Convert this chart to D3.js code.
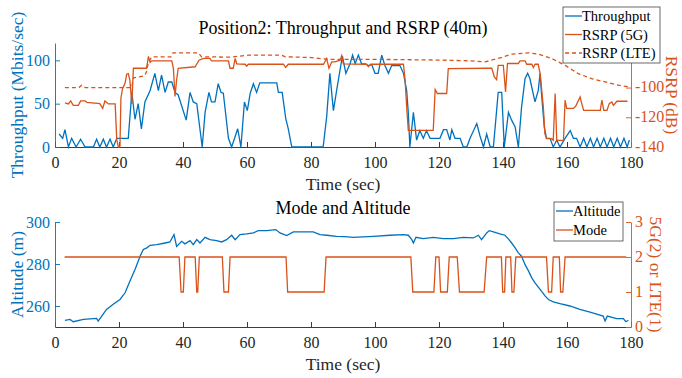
<!DOCTYPE html>
<html>
<head>
<meta charset="utf-8">
<script src="https://cdn.jsdelivr.net/npm/d3@7"></script>
<style>
body { margin: 0; background: #fff; }
svg text { font-family: "Liberation Serif", "Times New Roman", serif; }
</style>
</head>
<body>
<div id="chart"></div>
<script>
// Throughput (Mbits/sec) vs time (sec)
var thrTime = [1.3,2.4,3.1,4.2,5.2,6.6,8.0,9.4,12.0,13.0,14.0,15.1,16.1,17.2,18.2,19.3,22.9,24.0,25.0,26.0,27.0,28.1,29.7,31.2,32.3,33.3,34.4,35.4,36.5,37.5,38.5,41.0,42.2,43.2,44.3,46.0,46.9,48.1,48.9,50.0,51.0,51.9,52.6,54.2,55.2,57.1,58.1,59.2,60.1,61.0,62.0,63.0,64.0,69.3,69.8,71.0,72.1,72.9,74.0,83.8,84.9,85.9,87.0,88.0,89.8,90.9,92.2,93.0,93.8,94.8,95.8,96.9,97.9,99.0,100.0,101.0,102.1,103.1,104.2,105.2,106.3,107.8,108.9,109.9,110.4,110.9,112.0,113.0,114.0,115.1,116.1,117.2,120.3,121.4,122.4,123.4,124.0,125.0,126.6,127.6,128.7,129.7,131.8,132.8,133.9,134.9,136.0,137.0,138.5,139.6,140.4,141.7,142.7,143.8,144.8,145.8,146.9,147.7,148.4,150.0,151.0,151.6,152.0,152.9,153.6,154.7,155.7,156.8,157.8,159.4,161.0,162.0,163.0,164.1,165.2,166.2,167.3,168.3,169.4,170.4,171.5,172.5,173.6,174.6,175.7,176.7,177.8,178.8,179.5];
var thrValue = [15,10,20,0,10,0,9,0,0,9,0,9,0,9,0,10,10,63,32,50,21,52,65,85,65,83,63,75,75,63,60,31,63,52,50,0,40,63,52,52,73,63,62,10,0,21,0,52,42,62,73,63,74,74,63,63,33,21,0,0,35,85,42,65,105,85,96,106,96,106,96,96,94,95,85,85,106,94,85,94,94,94,85,65,40,0,40,8,19,10,19,10,10,20,20,8,20,10,10,0,0,10,27,13,0,15,0,0,63,63,0,40,31,23,0,46,79,85,79,52,65,85,63,23,10,10,0,8,0,10,19,10,10,0,10,0,10,0,10,0,10,0,10,0,10,0,10,0,8];

// RSRP (5G) in dB
var rsrp5gTime = [3.1,4.2,4.9,5.7,7.3,8.0,9.4,10.0,14.0,14.9,15.6,16.7,18.8,19.3,19.8,20.3,20.6,21.1,21.9,22.4,22.9,23.4,24.0,24.5,28.6,29.2,29.7,30.2,36.5,37.0,37.5,38.0,38.5,43.8,45.0,46.4,48.4,48.9,54.2,54.7,55.7,56.3,56.8,59.4,59.9,60.4,71.4,72.1,72.9,83.9,84.9,85.6,86.5,87.5,89.1,89.6,90.1,97.4,97.9,98.6,108.9,109.4,109.9,110.4,118.2,118.8,119.5,122.4,122.9,134.9,136.5,137.3,138.0,138.5,140.1,140.8,141.4,144.8,145.3,146.9,147.4,149.0,149.5,150.0,151.0,151.6,152.6,153.1,153.6,155.2,155.7,156.3,156.8,158.9,159.4,159.9,162.0,162.7,164.1,164.6,165.2,170.4,170.9,171.5,172.5,173.2,174.0,174.5,175.6,178.9];
var rsrp5gValue = [-110.3,-111,-109,-112,-112,-109,-109,-110,-110.8,-114,-109,-111,-111,-135,-140,-140,-107,-100.7,-97,-91,-90.6,-95,-111,-87,-87,-79,-83,-82,-82,-87,-106,-95,-87,-86,-81.6,-80.4,-80.4,-82,-82,-87,-87,-80.4,-84,-84.3,-85.6,-84.3,-84.3,-86.5,-84.3,-84.3,-80.4,-87,-82.7,-82.7,-81.6,-78.5,-84,-84.3,-86,-84.3,-84.3,-95,-113,-128.8,-128.8,-101.3,-104,-104,-87.2,-87,-87,-92.8,-94.6,-85,-85,-103,-83.8,-83.8,-82,-82,-84.3,-84.3,-86.5,-84.3,-84.3,-90.6,-113,-131,-134.4,-134.4,-135.5,-104,-135.5,-135.5,-108.5,-114,-114,-112.6,-106.3,-110.8,-115.3,-115.3,-108.5,-115.3,-115.3,-110.8,-109.7,-112,-109.2,-109.2];

// RSRP (LTE) in dB
var rsrpLteTime = [3.1,7.5,8.3,9.5,24.0,24.5,28.0,28.6,29.1,30.2,36.3,36.9,44.8,45.8,55.0,60.4,70.8,72.0,80.2,85.4,100.0,120.0,130.0,134.4,138.5,142.7,148.0,151.0,155.2,159.4,163.5,167.7,171.9,176.0,179.7];
var rsrpLteValue = [-100,-100,-98.4,-100,-100,-93.5,-92,-89.4,-83.8,-79.3,-79.3,-76.6,-76.6,-79.3,-79.5,-78.2,-78.2,-79.3,-79.8,-81,-81,-81.5,-82,-82.7,-80.4,-77.5,-76.6,-77.5,-80.4,-85,-90.6,-94,-96.2,-98.4,-99.6];

// Altitude (m)
var altTime = [3.1,4.7,5.7,8.9,13,13.5,14.6,16.1,18.2,20.3,21.9,23.4,25,26.6,27.6,28.7,29.7,31.8,34.4,35.9,37.2,38,39.6,40.6,42.2,43.2,44.3,45.3,46.9,48.4,50.5,52.1,53.6,55.2,56.3,57.8,59.9,62,63.5,66.2,69,70.3,72.4,74.5,77.6,80.7,82.8,84.9,88,90.6,93.2,99.5,104.7,108.8,110.4,111.5,112,112.8,115.1,118.2,121.4,124.5,127.6,130.7,132.3,133.3,134.9,135.7,137,139,140.6,141.6,142.7,143.8,144.8,145.8,146.9,148,149,150,151.6,153.2,154.2,155.7,157.8,160.9,164,167.2,171.3,171.9,172.6,175.5,177.6,178.4,179.2];
var altValue = [253.2,253.6,252.5,253.6,254.1,252.8,255.2,258.4,260.8,263.1,266.3,271.8,277.4,283.7,286.9,287.7,288.9,289.2,290,290.5,294,288.4,290.8,289.6,291.1,289.2,291.6,290,292.7,291.6,291.1,290.5,291.6,293.7,291.6,294,294.3,294.8,295.9,295.9,296.4,294.8,293.5,295.3,295.3,295.3,294,293.7,293.2,293,292.7,293.2,293.7,294,293.7,291.6,290,292.7,292.1,292.7,292.1,292.1,292.7,292.4,293.7,291.6,294.8,295.9,295.3,294.3,293.7,292.1,290,287.7,285.3,283.7,279.7,276.6,273.4,271,267.9,264.7,263.1,262,261.1,260,258.4,257.1,255.2,252.8,255.2,254,254,252.5,253.2];

// Mode: 5G(2) or LTE(1)
var modeTime = [3,38.8,39.4,40.1,40.6,43.8,44.3,44.6,45.1,52.3,52.8,54.2,54.7,72.2,72.7,84.1,84.7,111.2,111.8,118.4,119,120,120.5,122.6,123.2,125.7,126.4,134.1,134.9,139.5,139.9,140.5,140.9,142.4,142.8,143.4,144,153.6,154.2,155.2,155.7,157.6,158,158.7,159.4,178.5];
var modeValue = [2,2,1,1,2,2,1,1,2,2,1,1,2,2,1,1,2,2,1,1,2,2,1,1,2,2,1,1,2,2,1,1,2,2,1,1,2,2,1,1,2,2,1,1,2,2];

// Tick labels
var timeTicks = [0,20,40,60,80,100,120,140,160,180];
var thrTicks = [0,50,100];
var rsrpTicks = [-140,-120,-100];
var altTicks = [260,280,300];
var modeTicks = [0,1,2,3];

var blue = "#0072BD";
var orange = "#D95319";
var dark = "#262626";

var svgWidth = 682;
var svgHeight = 378;

var svg = d3.select("#chart")
    .append("svg")
    .attr("width", svgWidth)
    .attr("height", svgHeight);

function zip(t, v) {
    return t.map(function(d, i) { return {t: d, v: v[i]}; });
}

function styleAxis(g, color, size) {
    g.attr("font-family", null);
    g.select(".domain").attr("stroke", color).attr("stroke-width", 0.9);
    g.selectAll(".tick line").attr("stroke", color).attr("stroke-width", 0.9);
    g.selectAll(".tick text")
        .attr("fill", color)
        .attr("font-size", size);
}

// plain hyphen for negative numbers, like the original figure
var plainFormat = d => String(d);

function drawPanel(p) {
    var x = d3.scaleLinear().domain([0, 180]).range([55, 631]);
    var yL = d3.scaleLinear().domain(p.leftDomain).range([p.bottom, p.top]);
    var yR = d3.scaleLinear().domain(p.rightDomain).range([p.bottom, p.top]);

    var xAxis = svg.append("g")
        .attr("transform", `translate(0, ${p.bottom})`)
        .call(d3.axisBottom(x).tickValues(timeTicks).tickFormat(plainFormat).tickSizeInner(-5).tickSizeOuter(0).tickPadding(10));
    styleAxis(xAxis, dark, 16);

    var leftAxis = svg.append("g")
        .attr("transform", "translate(55, 0)")
        .call(d3.axisLeft(yL).tickValues(p.leftTicks).tickFormat(plainFormat).tickSizeInner(-5).tickSizeOuter(0).tickPadding(5));
    styleAxis(leftAxis, blue, 16);

    var rightAxis = svg.append("g")
        .attr("transform", "translate(631, 0)")
        .call(d3.axisRight(yR).tickValues(p.rightTicks).tickFormat(plainFormat).tickSizeInner(-5).tickSizeOuter(0).tickPadding(4));
    styleAxis(rightAxis, orange, 16);
    rightAxis.selectAll(".tick text").attr("dy", "0.25em");

    p.series.forEach(function(s) {
        var line = d3.line()
            .x(d => x(d.t))
            .y(d => (s.side == "left" ? yL : yR)(d.v));
        svg.append("path")
            .datum(zip(s.time, s.value))
            .attr("fill", "none")
            .attr("stroke", s.color)
            .attr("stroke-width", 1.3)
            .attr("stroke-dasharray", s.dash || null)
            .attr("d", line);
    });

    // titles and axis labels
    svg.append("text")
        .attr("x", 343).attr("y", p.titleY)
        .attr("text-anchor", "middle")
        .attr("font-size", 18)
        .attr("fill", "#000")
        .text(p.title);

    svg.append("text")
        .attr("x", 343).attr("y", p.bottom + 43)
        .attr("text-anchor", "middle")
        .attr("font-size", 17.5)
        .attr("fill", dark)
        .text("Time (sec)");

    svg.append("text")
        .attr("transform", `translate(23, ${(p.top + p.bottom) / 2}) rotate(-90)`)
        .attr("text-anchor", "middle")
        .attr("font-size", 17.5)
        .attr("fill", blue)
        .text(p.leftLabel);

    svg.append("text")
        .attr("transform", `translate(${p.rightLabelX}, ${(p.top + p.bottom) / 2}) rotate(90)`)
        .attr("text-anchor", "middle")
        .attr("font-size", 17.5)
        .attr("fill", orange)
        .text(p.rightLabel);

    // legend
    var lg = svg.append("g");
    lg.append("rect")
        .attr("x", p.legend.x).attr("y", p.legend.y)
        .attr("width", p.legend.w).attr("height", p.legend.h)
        .attr("fill", "#fff")
        .attr("stroke", "#444")
        .attr("stroke-width", 0.8);
    p.series.forEach(function(s, i) {
        var ly = p.legend.y + 9 + i * p.legend.step;
        lg.append("line")
            .attr("x1", p.legend.x + 2).attr("x2", p.legend.x + 19)
            .attr("y1", ly).attr("y2", ly)
            .attr("stroke", s.color)
            .attr("stroke-width", 1.3)
            .attr("stroke-dasharray", s.dash || null);
        lg.append("text")
            .attr("x", p.legend.x + 19).attr("y", ly + 5)
            .attr("font-size", 14.5)
            .attr("fill", "#000")
            .text(s.name);
    });
}

drawPanel({
    top: 43, bottom: 147, titleY: 34,
    title: "Position2: Throughput and RSRP (40m)",
    leftDomain: [0, 120], rightDomain: [-140, -70],
    leftTicks: thrTicks, rightTicks: rsrpTicks,
    leftLabel: "Throughput (Mbits/sec)", rightLabel: "RSRP (dB)", rightLabelX: 666,
    legend: {x: 563, y: 7, w: 97, h: 56, step: 18.5},
    series: [
        {name: "Throughput", time: thrTime, value: thrValue, side: "left", color: blue},
        {name: "RSRP (5G)", time: rsrp5gTime, value: rsrp5gValue, side: "right", color: orange},
        {name: "RSRP (LTE)", time: rsrpLteTime, value: rsrpLteValue, side: "right", color: orange, dash: "4,3"}
    ]
});

drawPanel({
    top: 222, bottom: 327, titleY: 214,
    title: "Mode and Altitude",
    leftDomain: [250, 300], rightDomain: [0, 3],
    leftTicks: altTicks, rightTicks: modeTicks,
    leftLabel: "Altitude (m)", rightLabel: "5G(2) or LTE(1)", rightLabelX: 650,
    legend: {x: 554, y: 202, w: 69, h: 39, step: 19},
    series: [
        {name: "Altitude", time: altTime, value: altValue, side: "left", color: blue},
        {name: "Mode", time: modeTime, value: modeValue, side: "right", color: orange}
    ]
});
</script>
</body>
</html>
